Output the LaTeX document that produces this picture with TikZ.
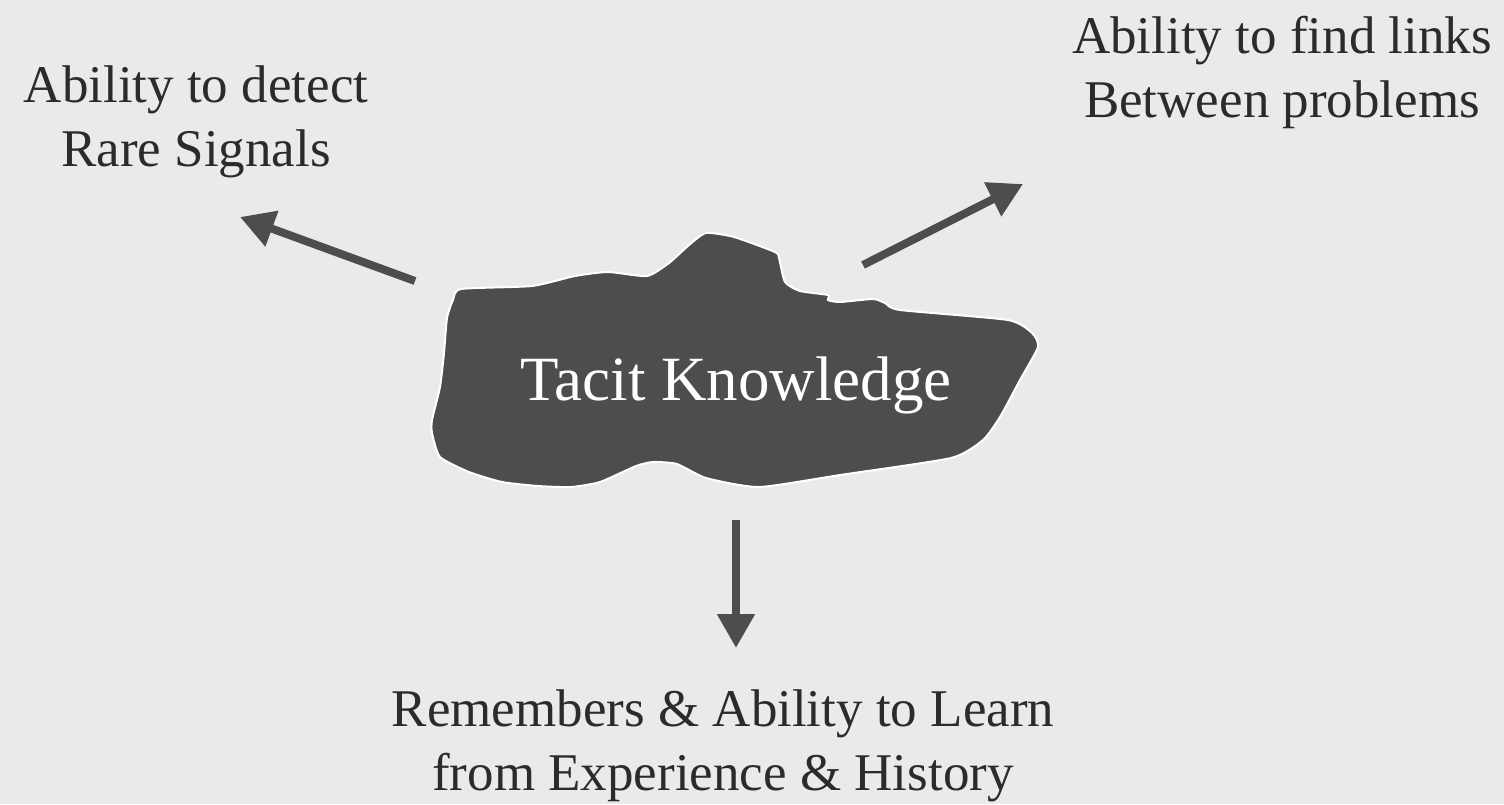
\documentclass[tikz,border=0pt]{standalone}
\usepackage{fontspec}
\setmainfont{Liberation Serif}
\usetikzlibrary{arrows.meta, positioning}
\definecolor{fondo}{RGB}{234,234,234}
\definecolor{oscuro}{RGB}{77,77,77}
\definecolor{tinta}{RGB}{43,43,43}
\tikzstyle{rotulo} = [text=tinta, align=center, font=\fontsize{26.5}{32}\selectfont, inner sep=0pt]
\tikzstyle{flecha} = [draw=oscuro, line width=4pt, -{Triangle[length=17pt, width=18pt]}]
\tikzstyle{mancha} = [fill=oscuro, draw=white, line width=1pt]

\begin{document}
\begin{tikzpicture}[x=0.5pt, y=-0.5pt]
	\fill[fondo] (0,0) rectangle (1504,804);
	\useasboundingbox (0,0) rectangle (1504,804);
	\draw[mancha] plot[smooth cycle, tension=0.35] coordinates {
		(461,289) (532,286) (575,276) (608,272) (647,276) (669,263) (689,245) (706,233)
		(734,237) (775,252) (779,258) (785,282) (800,291) (828,295) (828,300) (840,302)
		(873,299) (885,303) (900,310) (1008,320) (1032,333) (1038,347) (1020,380) (1000,417)
		(983,440) (951,458) (840,475) (759,487) (706,478) (677,464) (653,462) (636,466)
		(600,482) (571,487) (538,486) (502,482) (469,472) (440,457) (432,433) (432,420)
		(440,387) (444,353) (447,318) (453,300)};
	\node[text=white, font=\fontsize{31.5}{36}\selectfont, inner sep=0pt, anchor=base] (tacit) at (736,400) {Tacit Knowledge};
	% labels, placed by their last baseline
	\node[rotulo, anchor=base] (detect) at (196,166) {Ability to detect\\Rare Signals};
	\node[rotulo, anchor=base] (links) at (1282,117) {Ability to find links\\Between problems};
	\node[rotulo, anchor=base] (learn) at (723,790) {Remembers \& Ability to Learn\\from Experience \& History};
	% arrows
	\coordinate (detect from) at (415,281);
	\coordinate (detect to) at (240,217);
	\coordinate (links from) at (863,265);
	\coordinate (links to) at (1023,184);
	\coordinate (learn from) at (736,520);
	\coordinate (learn to) at (736,648);
	\draw[flecha] (detect from) -- (detect to);
	\draw[flecha] (links from) -- (links to);
	\draw[flecha] (learn from) -- (learn to);
\end{tikzpicture}
\end{document}
